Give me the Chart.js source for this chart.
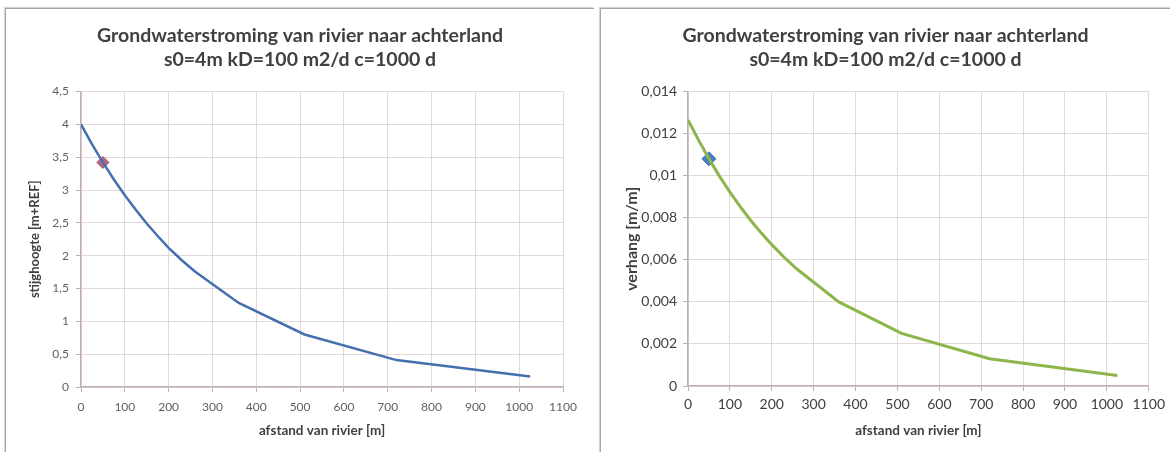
<!DOCTYPE html>
<html>
<head>
<meta charset="utf-8">
<script src="https://cdn.jsdelivr.net/npm/chart.js@4"></script>
<style>
    body { margin: 0; background: #fff; width: 1170px; height: 452px; overflow: hidden; position: relative; }
    .panel {
        position: absolute;
        background: #fff;
        border-top: 1px solid #a8a4a4;
        border-left: 1px solid #a8a4a4;
        box-shadow: -1px -1px 1px #d8d4d4;
    }
    .panel canvas { display: block; }
    #panelHead { left: 5px; top: 8px; width: 588px; height: 444px; }
    #panelSlope { left: 600px; top: 8px; width: 570px; height: 444px; }
</style>
</head>
<body>
<div class="panel" id="panelHead"><canvas id="headChart" width="588" height="443"></canvas></div>
<div class="panel" id="panelSlope"><canvas id="slopeChart" width="569" height="443"></canvas></div>

<script>
// distance from the river [m] and the values read at those distances
const distance = [0, 25, 50, 75, 100, 125, 150, 175, 200, 230, 260, 360, 510, 720, 1025];
const headValues = [4.0, 3.70, 3.42, 3.16, 2.92, 2.70, 2.49, 2.30, 2.12, 1.93, 1.76, 1.28, 0.80, 0.41, 0.16];
const slopeValues = [0.01265, 0.0117, 0.0108, 0.00998, 0.00922, 0.00852, 0.00787, 0.00727, 0.00672, 0.00611, 0.00556, 0.0040, 0.0025, 0.0013, 0.0005];

// highlighted point
const markerDistance = [50];
const markerHead = [3.42];
const markerSlope = [0.0108];

const chartTitle = ["Grondwaterstroming van rivier naar achterland", "s0=4m kD=100 m2/d c=1000 d"];
const xTitle = "afstand van rivier [m]";
const headTitle = "stijghoogte [m+REF]";
const slopeTitle = "verhang [m/m]";

const gridColor = "#e4d8d8";
const axisColor = "#c2b0b0";
const textColor = "#404040";

const toPoints = (xs, ys) => xs.map((x, i) => ({ x: x, y: ys[i] }));
const commaNumber = (v) => String(Number(v.toFixed(4))).replace(".", ",");

// side padding is kept equal on both sides so the title stays centred on the panel
function makeChart(id, cfg) {
    const ctx = document.getElementById(id).getContext("2d");
    return new Chart(ctx, {
        type: "scatter",
        data: {
            datasets: [{
                data: toPoints(distance, cfg.values),
                showLine: true,
                borderColor: cfg.lineColor,
                borderWidth: cfg.lineWidth,
                pointRadius: 0,
                tension: 0
            }, {
                data: toPoints(markerDistance, cfg.marker),
                pointStyle: "rectRot",
                pointRadius: cfg.markerRadius,
                backgroundColor: cfg.markerColor,
                borderColor: cfg.markerBorder,
                borderWidth: 1
            }]
        },
        options: {
            responsive: false,
            animation: false,
            layout: { padding: { left: cfg.side, right: cfg.side, top: 0, bottom: 0 } },
            plugins: {
                legend: { display: false },
                tooltip: { enabled: false },
                title: {
                    display: true,
                    text: chartTitle,
                    color: textColor,
                    font: { family: "Lato", size: 19.5, weight: "bold", lineHeight: 1.27 },
                    padding: { top: 14, bottom: 19 }
                }
            },
            scales: {
                x: {
                    type: "linear",
                    min: 0,
                    max: 1100,
                    afterFit: (scale) => { scale.height = cfg.xHeight; },
                    ticks: {
                        stepSize: 100,
                        color: cfg.tickColor,
                        padding: cfg.xTickPad,
                        maxRotation: 0,
                        font: { family: "Lato", size: cfg.tickSize },
                        callback: (v) => String(v)
                    },
                    grid: { color: gridColor, tickColor: axisColor, tickLength: 5 },
                    border: { color: axisColor, width: 1.5 },
                    title: {
                        display: true,
                        text: xTitle,
                        color: textColor,
                        font: { family: "Lato", size: 13.5, weight: "bold" },
                        padding: { top: 0, bottom: 13 }
                    }
                },
                y: {
                    type: "linear",
                    min: 0,
                    max: cfg.yMax,
                    afterFit: (scale) => { scale.width = cfg.yWidth - cfg.side; },
                    ticks: {
                        stepSize: cfg.yStep,
                        color: cfg.tickColor,
                        padding: cfg.yTickPad,
                        font: { family: "Lato", size: cfg.tickSize },
                        callback: (v) => commaNumber(v)
                    },
                    grid: { color: gridColor, tickColor: axisColor, tickLength: 5 },
                    border: { color: axisColor, width: 1.5 },
                    title: {
                        display: true,
                        text: cfg.yTitle,
                        color: textColor,
                        font: { family: "Lato", size: cfg.yTitleSize, weight: "bold" },
                        // position of the title's centre line from the canvas edge
                        padding: { top: cfg.yTitleX - cfg.side - cfg.yTitleSize * 0.6, bottom: 0 }
                    }
                }
            }
        }
    });
}

makeChart("headChart", {
    values: headValues,
    marker: markerHead,
    lineColor: "#4470b0",
    lineWidth: 2.5,
    markerColor: "#b8687e",
    markerBorder: "#9a4c64",
    markerRadius: 6,
    side: 31,
    xHeight: 65,
    yWidth: 75,
    yMax: 4.5,
    yStep: 0.5,
    tickColor: "#606060",
    tickSize: 12,
    xTickPad: 8,
    yTickPad: 7,
    yTitle: headTitle,
    yTitleSize: 13,
    yTitleX: 29
});

makeChart("slopeChart", {
    values: slopeValues,
    marker: markerSlope,
    lineColor: "#8db54c",
    lineWidth: 3,
    markerColor: "#4a7fc6",
    markerBorder: "#3f6fb0",
    markerRadius: 7,
    side: 20,
    xHeight: 66,
    yWidth: 87,
    yMax: 0.014,
    yStep: 0.002,
    tickColor: "#404040",
    tickSize: 14,
    xTickPad: 5,
    yTickPad: 6,
    yTitle: slopeTitle,
    yTitleSize: 16,
    yTitleX: 31
});
</script>
</body>
</html>
